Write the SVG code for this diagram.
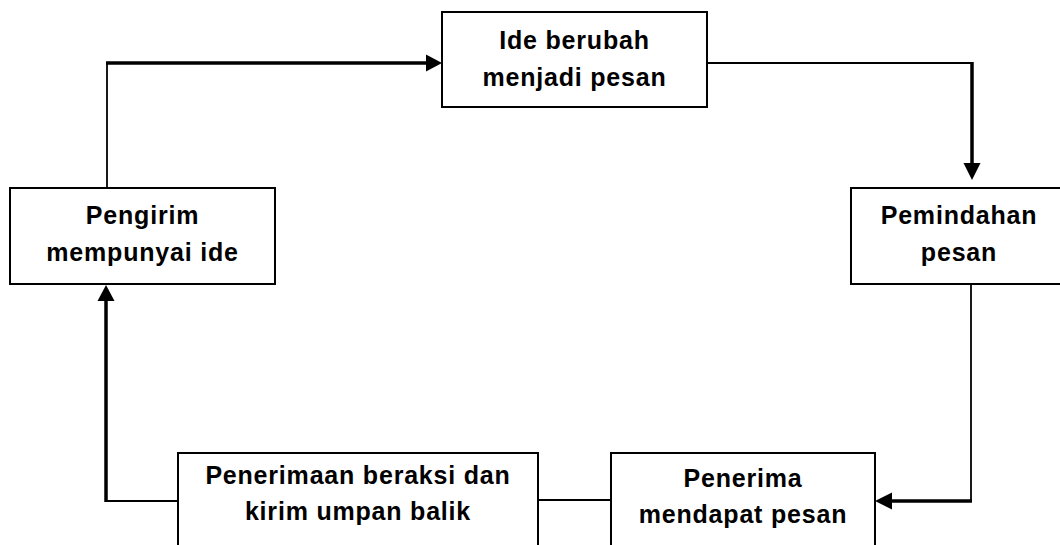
<svg xmlns="http://www.w3.org/2000/svg" width="1060" height="545" viewBox="0 0 1060 545">
<style>
.box{fill:#fff;stroke:#000;stroke-width:2}
.thin{fill:none;stroke:#000;stroke-width:1.8}
.thick{fill:none;stroke:#000;stroke-width:3.5}
.head{fill:#000}
text{font-family:"Liberation Sans",Arial,sans-serif;font-weight:bold;font-size:25px;letter-spacing:0.8px;text-anchor:middle;fill:#000}
</style>
<rect width="1060" height="545" fill="#fff"/>
<g id="connectors">
<polyline class="thin" points="107,188 107,63"/>
<polyline class="thick" points="106,63 428,63"/>
<polygon class="head" points="442,63 426,54.5 426,71.5"/>
<polyline class="thin" points="707,63 972,63"/>
<polyline class="thick" points="972,62 972,165"/>
<polygon class="head" points="972,180 963.5,163 980.5,163"/>
<polyline class="thin" points="971,284 971,501"/>
<polyline class="thick" points="972,501 889,501"/>
<polygon class="head" points="875,501 892,492.5 892,509.5"/>
<polyline class="thin" points="611,500 538,500"/>
<polyline class="thin" points="178,501 106,501"/>
<polyline class="thick" points="106,502 106,298"/>
<polygon class="head" points="106,285 97.5,301 114.5,301"/>
</g>
<g id="node-ide">
<rect class="box" x="442" y="12" width="265" height="95"/>
<text x="574.5" y="49">Ide berubah</text>
<text x="574.5" y="86">menjadi pesan</text>
</g>
<g id="node-pengirim">
<rect class="box" x="10" y="188" width="265" height="96"/>
<text x="142.5" y="224">Pengirim</text>
<text x="142.5" y="261">mempunyai ide</text>
</g>
<g id="node-pemindahan">
<rect class="box" x="851" y="188" width="230" height="96"/>
<text x="959" y="224">Pemindahan</text>
<text x="959" y="261">pesan</text>
</g>
<g id="node-penerimaan">
<rect class="box" x="178" y="453" width="360" height="110"/>
<text x="358" y="484">Penerimaan beraksi dan</text>
<text x="358" y="520">kirim umpan balik</text>
</g>
<g id="node-penerima">
<rect class="box" x="611" y="453" width="264" height="110"/>
<text x="743" y="487">Penerima</text>
<text x="743" y="523">mendapat pesan</text>
</g>
</svg>
